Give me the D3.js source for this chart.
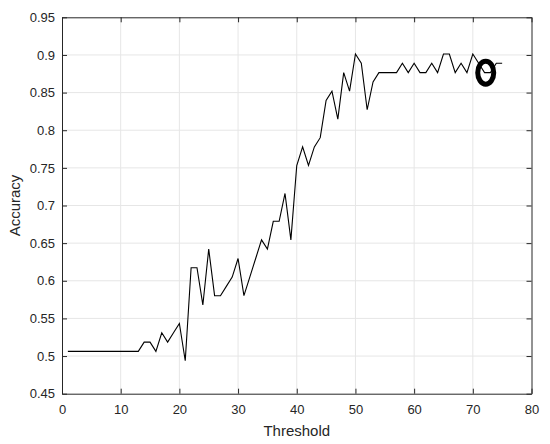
<!DOCTYPE html>
<html><head><meta charset="utf-8">
<script src="https://cdn.jsdelivr.net/npm/d3@7"></script>
<style>
body{margin:0;background:#fff;}
text{font-family:"Liberation Sans",Arial,sans-serif;fill:#262626;}
</style></head>
<body><svg id="c" width="550" height="444"></svg>
<script>
const thresholds = d3.range(1, 76);
const accuracy = [
0.5062,0.5062,0.5062,0.5062,0.5062,0.5062,0.5062,0.5062,0.5062,0.5062,
0.5062,0.5062,0.5062,0.5185,0.5185,0.5062,0.5309,0.5185,0.5309,0.5432,
0.4938,0.6173,0.6173,0.5679,0.6420,0.5802,0.5802,0.5926,0.6049,0.6296,
0.5802,0.6049,0.6296,0.6543,0.6420,0.6790,0.6790,0.7160,0.6543,0.7531,
0.7778,0.7531,0.7778,0.7901,0.8395,0.8519,0.8148,0.8765,0.8519,0.9012,
0.8889,0.8272,0.8642,0.8765,0.8765,0.8765,0.8765,0.8889,0.8765,0.8889,
0.8765,0.8765,0.8889,0.8765,0.9012,0.9012,0.8765,0.8889,0.8765,0.9012,
0.8889,0.8765,0.8765,0.8889,0.8889];
const xTicks = [0,10,20,30,40,50,60,70,80];
const yTicks = [0.45,0.5,0.55,0.6,0.65,0.7,0.75,0.8,0.85,0.9,0.95];
const markerPoint = {x: 72.2, y: 0.8765};
const xLabel = "Threshold", yLabel = "Accuracy";

const L = 62, R = 531.5, T = 17.3, B = 393.7;
const svg = d3.select("#c");
const x = d3.scaleLinear().domain([0,80]).range([L,R]);
const y = d3.scaleLinear().domain([0.45,0.95]).range([B,T]);

// grid
svg.append("g").selectAll("line").data(xTicks.slice(1,-1)).join("line")
  .attr("x1",d=>x(d)).attr("x2",d=>x(d)).attr("y1",T).attr("y2",B)
  .attr("stroke","#e6e6e6").attr("stroke-width",1);
svg.append("g").selectAll("line").data(yTicks.slice(1,-1)).join("line")
  .attr("y1",d=>y(d)).attr("y2",d=>y(d)).attr("x1",L).attr("x2",R)
  .attr("stroke","#e6e6e6").attr("stroke-width",1);

// line
svg.append("path").datum(thresholds.map((t,i)=>[t,accuracy[i]]))
  .attr("fill","none").attr("stroke","#000").attr("stroke-width",1.1)
  .attr("d", d3.line().x(d=>x(d[0])).y(d=>y(d[1])));

// marker
svg.append("ellipse").attr("cx",x(markerPoint.x)).attr("cy",y(markerPoint.y))
  .attr("rx",8).attr("ry",11.5).attr("fill","none").attr("stroke","#000").attr("stroke-width",5);

// axes
const fmt = d=>String(+d.toFixed(2));
const ax = (axis, tr)=>{ const g = svg.append("g").attr("transform",tr).call(axis);
  g.select(".domain").attr("stroke","#262626");
  g.selectAll(".tick line").attr("stroke","#262626");
  g.selectAll("text").attr("font-size",13).attr("fill","#262626").attr("font-family","Liberation Sans, Arial, sans-serif");
  return g; };
ax(d3.axisBottom(x).tickValues(xTicks).tickSizeInner(-5).tickSizeOuter(0).tickPadding(11), `translate(0,${B})`);
ax(d3.axisTop(x).tickValues(xTicks).tickSizeInner(-5).tickSizeOuter(0).tickFormat(""), `translate(0,${T})`);
ax(d3.axisLeft(y).tickValues(yTicks).tickFormat(fmt).tickSizeInner(-5).tickSizeOuter(0).tickPadding(7), `translate(${L},0)`);
ax(d3.axisRight(y).tickValues(yTicks).tickSizeInner(-5).tickSizeOuter(0).tickFormat(""), `translate(${R},0)`);

svg.append("text").attr("x",(L+R)/2).attr("y",436).attr("text-anchor","middle")
  .attr("font-size",15).text(xLabel);
svg.append("text").attr("transform",`translate(20,${(T+B)/2}) rotate(-90)`).attr("text-anchor","middle")
  .attr("font-size",15).text(yLabel);
</script></body></html>
